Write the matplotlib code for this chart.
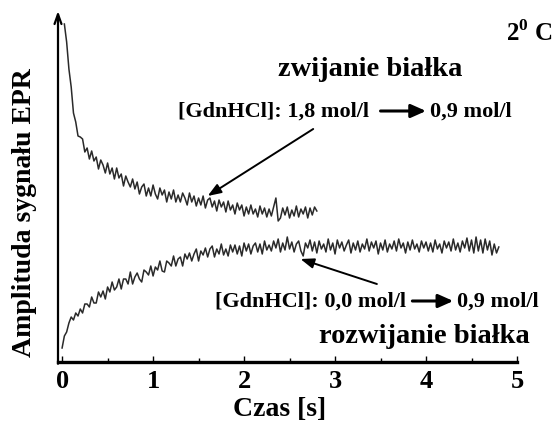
import numpy as np
import matplotlib
matplotlib.use("Agg")
import matplotlib.pyplot as plt
from matplotlib.ticker import MultipleLocator

plt.rcParams['font.family'] = ['Liberation Serif', 'DejaVu Serif']
plt.rcParams['font.weight'] = 'bold'
plt.rcParams['mathtext.fontset'] = 'custom'
plt.rcParams['mathtext.bf'] = 'Liberation Serif:bold'
plt.rcParams['mathtext.rm'] = 'Liberation Serif:bold'

# sampling step of both EPR traces [s]
dt = 0.025

# folding trace (zwijanie), starts at t = dt, arbitrary amplitude units
folding = [
    338, 320, 293, 275, 249, 240, 226, 225, 223, 210,
    214, 203, 211, 201, 205, 193, 202, 197, 189, 199,
    188, 194, 183, 194, 184, 188, 176, 186, 180, 175,
    183, 173, 180, 168, 175, 178, 166, 174, 166, 177,
    168, 163, 174, 167, 172, 160, 170, 163, 172, 160,
    167, 160, 169, 164, 157, 169, 160, 166, 156, 164,
    157, 166, 154, 162, 164, 155, 161, 151, 162, 155,
    160, 150, 161, 152, 157, 148, 159, 152, 157, 146,
    155, 148, 157, 148, 153, 145, 156, 148, 154, 145,
    153, 146, 155, 164, 141, 144, 154, 147, 155, 144,
    152, 146, 156, 145, 153, 148, 155, 144, 154, 147,
    155, 151,
]

# unfolding trace (rozwijanie), starts at t = 0
unfolding = [
    14, 26, 30, 39, 45, 42, 49, 46, 53, 49,
    58, 58, 55, 65, 59, 59, 70, 65, 71, 63,
    75, 70, 80, 72, 75, 83, 73, 83, 83, 78,
    90, 78, 85, 89, 83, 80, 92, 90, 87, 96,
    86, 95, 92, 101, 91, 90, 101, 99, 96, 106,
    96, 103, 105, 96, 108, 103, 109, 101, 108, 113,
    101, 111, 107, 114, 105, 113, 116, 105, 113, 108,
    118, 107, 113, 106, 117, 110, 117, 108, 116, 106,
    119, 111, 118, 108, 116, 119, 110, 118, 108, 121,
    112, 117, 111, 121, 114, 123, 110, 119, 112, 125,
    113, 120, 110, 118, 121, 111, 106, 119, 114, 122,
    111, 120, 109, 121, 113, 118, 110, 123, 112, 119,
    108, 122, 114, 120, 111, 117, 122, 109, 119, 112,
    121, 110, 118, 113, 123, 111, 120, 114, 121, 108,
    119, 112, 122, 110, 118, 113, 121, 111, 123, 114,
    119, 109, 120, 112, 122, 113, 118, 110, 121, 114,
    120, 111, 119, 110, 122, 113, 118, 109, 121, 114,
    120, 111, 123, 112, 119, 110, 121, 114, 124, 111,
    122, 109, 125, 111, 122, 109, 123, 112, 121, 107,
    118, 109, 115,
]

t_fold = (np.arange(len(folding)) + 1) * dt
t_unfold = np.arange(len(unfolding)) * dt

x_ticks = [0, 1, 2, 3, 4, 5]

fig = plt.figure(figsize=(5.58, 4.27), dpi=100)
ax = fig.add_axes([58 / 558, 64 / 427, 459 / 558, 351 / 427])

ax.plot(t_fold, folding, color='#2a2a2a', linewidth=1.1)
ax.plot(t_unfold, unfolding, color='#2a2a2a', linewidth=1.1)

ax.set_xlim(-0.045, 5.0)
ax.set_ylim(0, 351)

# axes styling
for s in ['top', 'right', 'left']:
    ax.spines[s].set_visible(False)
ax.spines['bottom'].set_linewidth(2.4)
ax.set_yticks([])
ax.set_xticks(x_ticks)
ax.xaxis.set_minor_locator(MultipleLocator(0.5))
ax.tick_params(axis='x', which='major', direction='in', length=4, width=1,
               labelsize=19, pad=5)
ax.tick_params(axis='x', which='minor', direction='in', length=3, width=1)
for lab in ax.get_xticklabels():
    lab.set_fontweight('bold')

# vertical axis with arrow head
ax.annotate('', xy=(0, 1.0), xytext=(0, -0.005), xycoords='axes fraction',
            arrowprops=dict(arrowstyle='->,head_length=0.7,head_width=0.25',
                            lw=1.6, color='black', shrinkA=0, shrinkB=0))

fig.text(280 / 558, 1 - 410 / 427, 'Czas [s]', ha='center', va='center',
         fontsize=20, fontweight='bold')
fig.text(25 / 558, 1 - 213 / 427, 'Amplituda sygnału EPR', ha='center',
         va='center', rotation=90, fontsize=20, fontweight='bold')

# annotations
ax.text(553 / 558, 1 - 33 / 427, r'2$^{\mathbf{0}}$ C', ha='right', va='center',
        fontsize=18, fontweight='bold', transform=fig.transFigure)
ax.text(3.39, 293, 'zwijanie białka', ha='center', va='center',
        fontsize=20.5, fontweight='bold')
ax.text(1.275, 251, '[GdnHCl]: 1,8 mol/l', ha='left', va='center',
        fontsize=16, fontweight='bold')
ax.annotate('', xy=(4.0, 251), xytext=(3.5, 251),
            arrowprops=dict(arrowstyle='-|>,head_length=0.9,head_width=0.4',
                            lw=2.2, color='black', shrinkA=0, shrinkB=0))
ax.text(4.04, 251, '0,9 mol/l', ha='left', va='center',
        fontsize=16, fontweight='bold')
ax.annotate('', xy=(1.6, 166), xytext=(2.76, 233),
            arrowprops=dict(arrowstyle='-|>,head_length=0.8,head_width=0.3',
                            lw=1.4, color='black', shrinkA=0, shrinkB=0))

ax.text(1.68, 61, '[GdnHCl]: 0,0 mol/l', ha='left', va='center',
        fontsize=16, fontweight='bold')
ax.annotate('', xy=(4.3, 61), xytext=(3.85, 61),
            arrowprops=dict(arrowstyle='-|>,head_length=0.9,head_width=0.4',
                            lw=2.2, color='black', shrinkA=0, shrinkB=0))
ax.text(4.34, 61, '0,9 mol/l', ha='left', va='center',
        fontsize=16, fontweight='bold')
ax.annotate('', xy=(2.62, 103), xytext=(3.46, 78),
            arrowprops=dict(arrowstyle='-|>,head_length=0.8,head_width=0.3',
                            lw=1.4, color='black', shrinkA=0, shrinkB=0))
ax.text(3.98, 26, 'rozwijanie białka', ha='center', va='center',
        fontsize=20.5, fontweight='bold')

fig.savefig('out.png', dpi=100)
